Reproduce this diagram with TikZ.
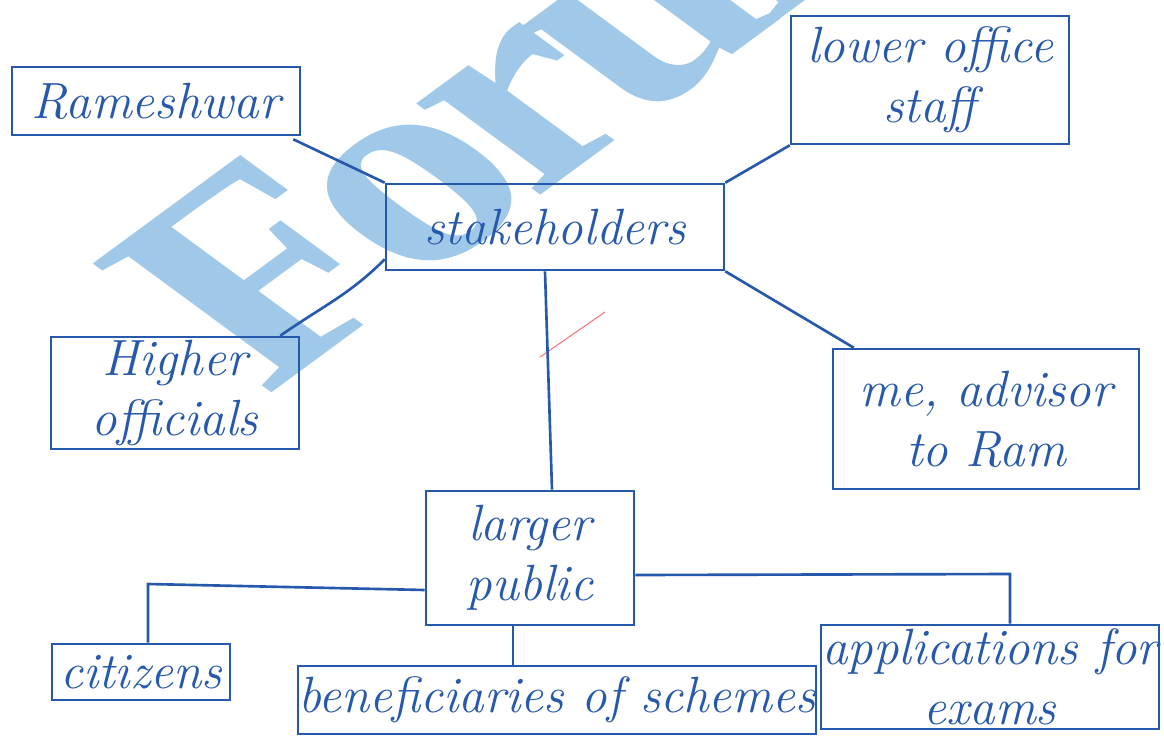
\documentclass[tikz,border=0pt]{standalone}
\usepackage{fontspec}
\usetikzlibrary{calc}
\newfontfamily\wmfont{Liberation Serif}
\definecolor{ink}{RGB}{38,88,172}
\definecolor{wm}{RGB}{160,200,232}
\tikzset{
  box/.style={draw=ink, line width=1.5pt, text=ink, align=center, inner sep=0pt,
    font=\fontsize{29}{34}\selectfont\itshape},
  link/.style={draw=ink, line width=1.5pt}
}
\begin{document}
\begin{tikzpicture}[x=0.02cm,y=0.02cm]
\useasboundingbox (0,0) rectangle (1164,-745);
\fill[white] (0,0) rectangle (1164,-745);
% watermark
\node[text=wm, cm={0.9617,0.7071,-0.9617,0.7071,(0,0)}, anchor=base west, inner sep=0pt,
  font=\wmfont\bfseries\fontsize{160}{160}\selectfont] (mark) at (265,-398) {\addfontfeatures{LetterSpace=-6}Forum};
% stray red tick
\draw[red!55, line width=0.6pt] (540,-357) -- (605,-312);
% boxes
\node[box, minimum width=5.76cm, minimum height=1.36cm] (ram) at (156,-101) {Rameshwar};
\node[box, minimum width=6.76cm, minimum height=1.72cm] (stake) at (555,-227) {stakeholders};
\node[box, minimum width=5.56cm, minimum height=2.56cm] (lower) at (930,-80) {lower office\\staff};
\node[box, minimum width=4.96cm, minimum height=2.24cm] (higher) at (175,-393) {Higher\\officials};
\node[box, minimum width=6.12cm, minimum height=2.80cm] (me) at (986,-419) {me, advisor\\to Ram};
\node[box, minimum width=4.16cm, minimum height=2.68cm] (larger) at (530,-558) {larger\\public};
\node[box, minimum width=3.56cm, minimum height=1.12cm] (cit) at (141,-672) {citizens};
\node[box, minimum width=8.64cm, minimum height=1.36cm] (ben) at (557,-700) {beneficiaries of schemes};
\node[box, minimum width=6.76cm, minimum height=2.08cm] (app) at (990,-677) {applications for\\exams};
% connectors
\draw[link] ($(ram.south east)+(-8,-3)$) -- (stake.north west);
\draw[link] ($(higher.north east)+(-20,0)$) to[out=35,in=225] ($(stake.south west)+(0,12)$);
\draw[link] (lower.south west) -- (stake.north east);
\draw[link] (stake.south east) -- ($(me.north west)+(22,0)$);
\draw[link] ($(stake.south)+(-10,0)$) -- ($(larger.north)+(22,0)$);
\coordinate (c1) at (148,-584);
\draw[link] ($(larger.west)+(0,-32)$) -- (c1) -- (c1 |- cit.north);
\coordinate (c3) at ($(larger.south)+(-17,0)$);
\draw[link] (c3) -- (c3 |- ben.north);
\coordinate (c2) at (1010,-574);
\draw[link] ($(larger.east)+(0,-17)$) -- (c2) -- (c2 |- app.north);
\end{tikzpicture}
\end{document}
